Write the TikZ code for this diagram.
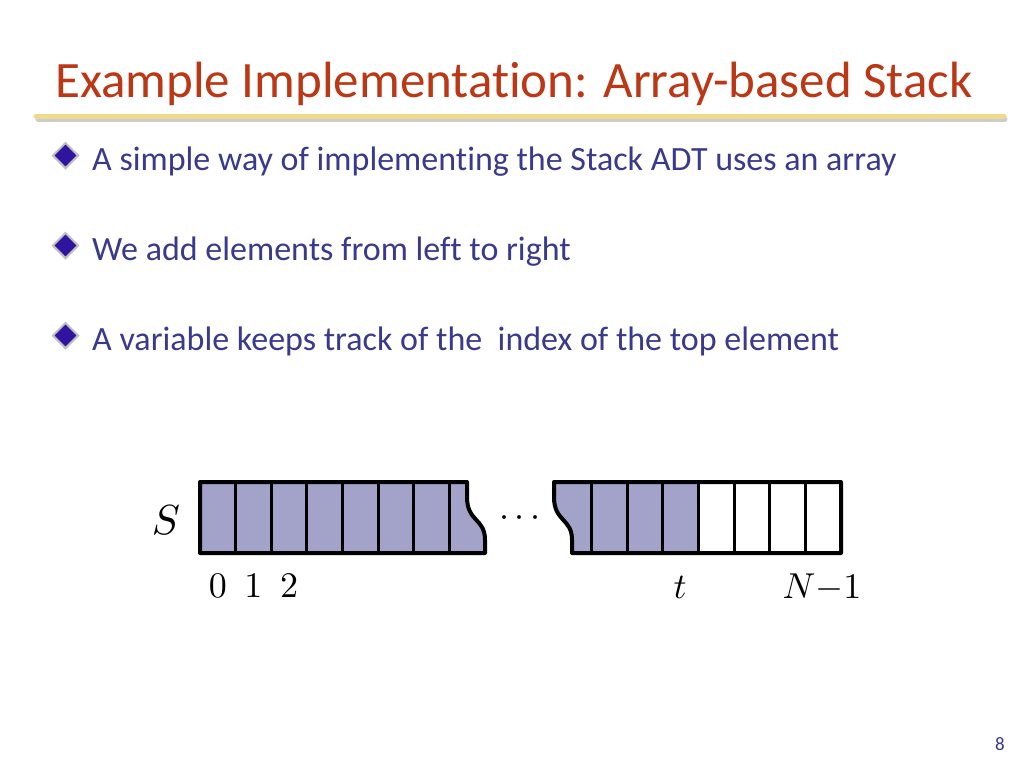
\documentclass[tikz,border=0pt]{standalone}
\usepackage{fontspec}
\setmainfont{Carlito}[Ligatures=NoCommon]
\usetikzlibrary{shapes.geometric}
\definecolor{titlered}{RGB}{186,56,22}
\definecolor{bodyblue}{RGB}{58,58,140}
\definecolor{rulegold}{RGB}{238,218,140}
\definecolor{cellfill}{RGB}{163,162,200}
\definecolor{bulletpurple}{RGB}{48,20,160}
\tikzset{
  outline/.style={draw=black,line width=4pt,line join=round},
  divider/.style={draw=black,line width=3pt},
  bulletmark/.style={diamond,fill=bulletpurple,draw=gray!50,line width=2pt,inner sep=0pt,minimum size=26pt},
  bullettext/.style={anchor=base west,inner sep=0pt,text=bodyblue,font=\fontsize{34}{40}\selectfont},
  idx/.style={anchor=base,inner sep=0pt,scale=3.6}
}
\begin{document}
\begin{tikzpicture}[x=1pt,y=-1pt]
  \useasboundingbox[fill=white] (0,0) rectangle (1024,768);

  % title and the golden rule under it
  \node[anchor=base west,inner sep=0pt,text=titlered,font=\fontsize{51}{56}\selectfont] (title) at (55,97) {Example Implementation: Array-based Stack};
  \draw[line width=5pt,gray!40,line cap=round] (38,119) -- (1005,119);
  \draw[line width=5pt,rulegold,line cap=round] (36,116) -- (1004,116);

  %% bullets
  \foreach \y/\txt [count=\k] in {170/A simple way of implementing the Stack ADT uses an array,
                                  260/We add elements from left to right,
                                  350/A variable keeps track of the~ index of the top element}
  {
    \node[bulletmark] (mark\k) at (65.5,\y-14.5) {};
    \node[bullettext] (item\k) at (92,\y) {\txt};
  }

  % the array, left piece
  \path[fill=cellfill] (200,482) -- (467,482) -- (467,497) .. controls (467,522) and (485,518) .. (485,540) -- (485,553) -- (200,553) -- cycle;
  \foreach \c in {1,...,7}
    \draw[divider] (200+\c*35.6,482) -- ++(0,71);
  \draw[outline] (467,482) -- (200,482) -- (200,553) -- (485,553) -- (485,540) .. controls (485,518) and (467,522) .. (467,497) -- cycle;

  % the array, right piece
  \path[fill=cellfill] (554,482) -- (698.5,482) -- (698.5,553) -- (572,553) -- (572,540) .. controls (572,518) and (554,522) .. (554,497) -- cycle;
  \foreach \c in {0,...,6}
    \draw[divider] (591.7+\c*35.6,482) -- ++(0,71);
  \draw[outline] (554,497) -- (554,482) -- (841,482) -- (841,553) -- (572,553) -- (572,540) .. controls (572,518) and (554,522) .. (554,497);

  % labels
  \node[inner sep=0pt,scale=4.2] (lblS) at (166,520) {$S$};
  \node[idx] (dots) at (520,526) {$\cdots$};
  \foreach \c in {0,1,2}
    \node[idx] (i\c) at (217.8+\c*35.6,597) {$\c$};
  \node[idx] (top) at (680,598) {$t$};
  \node[idx] (last) at (822,598) {$N{-}1$};

  % page number
  \node[anchor=base,inner sep=0pt,text=bodyblue,font=\fontsize{19}{20}\selectfont] (page) at (1000,750) {8};
\end{tikzpicture}
\end{document}
